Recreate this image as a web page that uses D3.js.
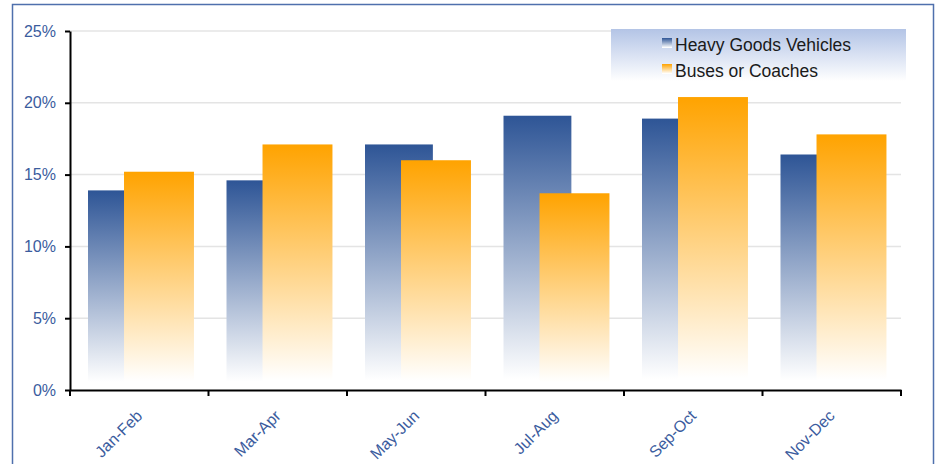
<!DOCTYPE html>
<html>
<head>
<meta charset="utf-8">
<script src="https://cdn.jsdelivr.net/npm/d3@7/dist/d3.min.js"></script>
<style>
    body { margin: 0; background: #fff; }
    text { font-family: "Liberation Sans", Arial, sans-serif; }
</style>
</head>
<body>
<script>
// Data
const periods = ["Jan-Feb", "Mar-Apr", "May-Jun", "Jul-Aug", "Sep-Oct", "Nov-Dec"];
const hgv = [13.9, 14.6, 17.1, 19.1, 18.9, 16.4];
const buses = [15.2, 17.1, 16.0, 13.7, 20.4, 17.8];
const seriesNames = ["Heavy Goods Vehicles", "Buses or Coaches"];
const yTicks = [0, 5, 10, 15, 20, 25];

const W = 938, H = 464;
const margin = { top: 31, right: 37, bottom: 74, left: 70 };
const width = W - margin.left - margin.right;
const height = H - margin.top - margin.bottom;

const svg = d3.select("body")
    .append("svg")
    .attr("width", W)
    .attr("height", H);

// Gradients
const defs = svg.append("defs");
function gradient(id, color, endOffset) {
    const g = defs.append("linearGradient")
        .attr("id", id)
        .attr("x1", 0).attr("y1", 0).attr("x2", 0).attr("y2", 1);
    g.append("stop").attr("offset", "0%").attr("stop-color", color);
    g.append("stop").attr("offset", endOffset).attr("stop-color", "#ffffff");
}
gradient("gradBlue", "#2e5596", "96%");
gradient("gradOrange", "#ffa300", "96%");
gradient("gradLegend", "#b3c4e6", "100%");

// Frame
svg.append("rect")
    .attr("x", 12.5)
    .attr("y", 4.5)
    .attr("width", 921)
    .attr("height", 480)
    .attr("fill", "none")
    .attr("stroke", "#4f70ad")
    .attr("stroke-width", 1.5);

const g = svg.append("g")
    .attr("transform", `translate(${margin.left},${margin.top})`);

const xScale = d3.scaleBand()
    .domain(periods)
    .range([0, width]);

const yScale = d3.scaleLinear()
    .domain([0, 25])
    .range([height, 0]);

// Gridlines
g.selectAll(".grid")
    .data(yTicks.slice(1))
    .enter()
    .append("line")
    .attr("x1", 0)
    .attr("x2", width)
    .attr("y1", d => yScale(d))
    .attr("y2", d => yScale(d))
    .style("stroke", "#e4e4e4")
    .style("stroke-width", 1.5);

// Bars
const bw = xScale.bandwidth();
g.selectAll(".hgv")
    .data(hgv)
    .enter()
    .append("rect")
    .attr("x", (d, i) => xScale(periods[i]) + bw * 0.13)
    .attr("y", d => yScale(d))
    .attr("width", bw * 0.49)
    .attr("height", d => yScale(0) - yScale(d))
    .style("fill", "url(#gradBlue)");

g.selectAll(".bus")
    .data(buses)
    .enter()
    .append("rect")
    .attr("x", (d, i) => xScale(periods[i]) + bw * 0.39)
    .attr("y", d => yScale(d))
    .attr("width", bw * 0.505)
    .attr("height", d => yScale(0) - yScale(d))
    .style("fill", "url(#gradOrange)");

// Axes
const yAxis = g.append("g")
    .call(d3.axisLeft(yScale).tickValues(yTicks).tickFormat(d => d + "%").tickSize(5).tickSizeOuter(0));
yAxis.select(".domain").attr("stroke", "#000").attr("stroke-width", 2);
yAxis.selectAll(".tick line").attr("stroke", "#000").attr("stroke-width", 2);
yAxis.selectAll(".tick text")
    .attr("x", -14)
    .style("font-size", "16px")
    .style("font-family", "Liberation Sans, Arial, sans-serif")
    .attr("fill", "#3b5c9e");

const xAxis = g.append("g")
    .attr("transform", `translate(0,${height})`)
    .call(d3.axisBottom(xScale).tickSize(0).tickSizeOuter(0));
xAxis.select(".domain").attr("stroke", "#000").attr("stroke-width", 2);
xAxis.selectAll(".tick text")
    .attr("text-anchor", "end")
    .attr("transform", "translate(0,23) rotate(-45)")
    .attr("dy", "0.35em")
    .attr("y", 0)
    .style("font-size", "16px")
    .style("font-family", "Liberation Sans, Arial, sans-serif")
    .attr("fill", "#3b5c9e");

// boundary ticks between categories
const bounds = periods.map(p => xScale(p)).concat([width]);
g.selectAll(".btick")
    .data(bounds)
    .enter()
    .append("line")
    .attr("x1", d => d)
    .attr("x2", d => d)
    .attr("y1", height)
    .attr("y2", height + 6)
    .style("stroke", "#000")
    .style("stroke-width", 2);

// Legend
svg.append("rect")
    .attr("x", 611)
    .attr("y", 29)
    .attr("width", 295)
    .attr("height", 52)
    .style("fill", "url(#gradLegend)");

const legend = svg.selectAll(".legend")
    .data(seriesNames)
    .enter()
    .append("g")
    .attr("transform", (d, i) => `translate(662,${38 + i * 26})`);

legend.append("rect")
    .attr("width", 10)
    .attr("height", 10)
    .style("fill", (d, i) => i === 0 ? "url(#gradBlue)" : "url(#gradOrange)");

legend.append("text")
    .attr("x", 13)
    .attr("y", 13)
    .style("font-size", "17.5px")
    .style("fill", "#1a1a1a")
    .text(d => d);
</script>
</body>
</html>
